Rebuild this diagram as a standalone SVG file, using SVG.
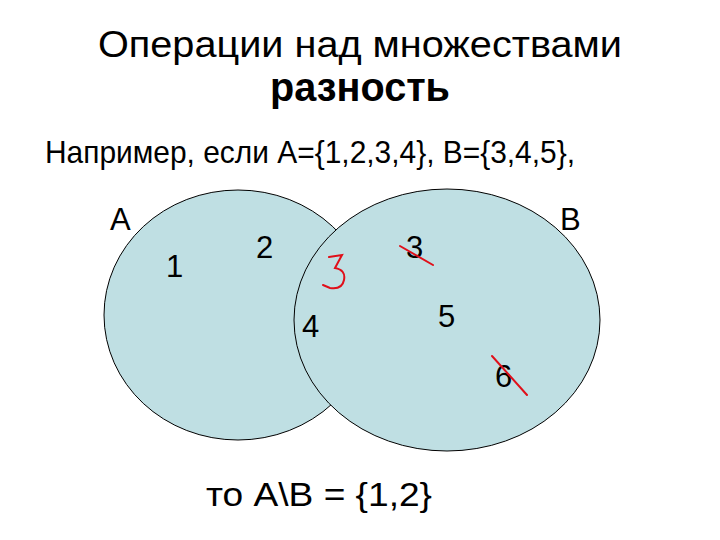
<svg xmlns="http://www.w3.org/2000/svg" width="720" height="540" viewBox="0 0 720 540">
<style>
text{font-family:"Liberation Sans",Arial,sans-serif;fill:#000}
.set{fill:#bfdfe3;stroke:#000;stroke-width:1}
.num{font-size:31px}
.red{fill:none;stroke:#e0101a;stroke-width:2;stroke-linecap:round}
</style>
<rect width="720" height="540" fill="#fff"/>
<g id="title">
<text x="360" y="57" font-size="36" text-anchor="middle" textLength="524" lengthAdjust="spacingAndGlyphs">Операции над множествами</text>
<text x="360" y="101" font-size="40" font-weight="bold" text-anchor="middle" textLength="180" lengthAdjust="spacingAndGlyphs">разность</text>
</g>
<g id="example">
<text x="45" y="163" font-size="32" textLength="530" lengthAdjust="spacingAndGlyphs">Например, если А={1,2,3,4}, В={3,4,5},</text>
</g>
<g id="setA">
<ellipse class="set" cx="238" cy="315" rx="134" ry="125"/>
</g>
<g id="setB">
<ellipse class="set" cx="447" cy="320" rx="153" ry="131"/>
</g>
<g id="labels">
<text class="num" x="110" y="230">А</text>
<text class="num" x="560" y="230">В</text>
<text class="num" x="166" y="277">1</text>
<text class="num" x="256" y="258">2</text>
<text class="num" x="406" y="258">3</text>
<text class="num" x="302" y="337">4</text>
<text class="num" x="438" y="327">5</text>
<text class="num" x="495" y="387">6</text>
</g>
<g id="marks">
<path class="red" d="M329 257 L342 255 L335 268 Q346 270 344 280 Q342 290 330 288 L323 285"/>
<line class="red" x1="400" y1="246" x2="433" y2="265"/>
<line class="red" x1="492" y1="356" x2="527" y2="395"/>
</g>
<g id="result">
<text x="206" y="506" font-size="34" textLength="226" lengthAdjust="spacingAndGlyphs">то А\В = {1,2}</text>
</g>
</svg>
